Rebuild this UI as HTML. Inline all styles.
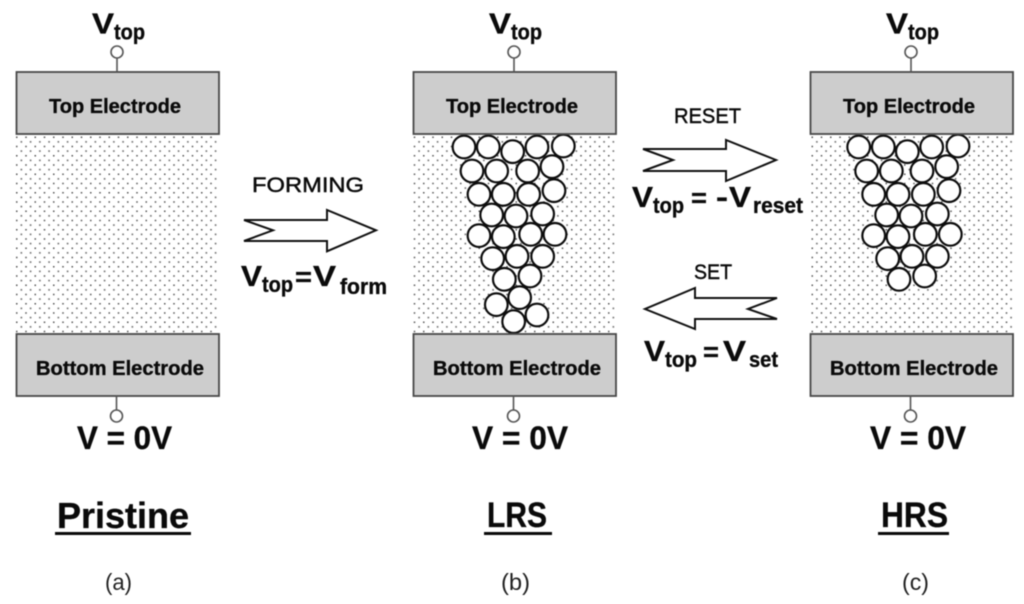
<!DOCTYPE html>
<html><head><meta charset="utf-8"><style>
html,body{margin:0;padding:0;background:#fff;width:1024px;height:604px;overflow:hidden}
svg{display:block;filter:blur(.45px)}
text{font-family:"Liberation Sans",sans-serif;fill:#0a0a0a}
.b{font-weight:bold;stroke:#0a0a0a;stroke-width:.35}
.m{stroke:#0a0a0a;stroke-width:.45}
.box{fill:#cdcdcd;stroke:#484848;stroke-width:1.8}
.t{fill:#fff;stroke:#555;stroke-width:1.6}
.l{stroke:#555;stroke-width:1.6}
.a{fill:#fff;stroke:#111;stroke-width:2}
.c circle{fill:#fff;stroke:#0c0c0c;stroke-width:6.5}
</style></head><body>
<svg width="1024" height="604" viewBox="0 0 1024 604" xmlns="http://www.w3.org/2000/svg">
<defs><pattern id="d" x="16" y="136.5" width="9.25" height="9.25" patternUnits="userSpaceOnUse">
<rect x="0" y="0" width="1.5" height="1.5" fill="#555"/><rect x="4.6" y="4.6" width="1.5" height="1.5" fill="#555"/></pattern></defs>

<rect x="16" y="134" width="203" height="200" fill="url(#d)"/>
<rect x="413" y="134" width="203" height="200" fill="url(#d)"/>
<rect x="810" y="134" width="203" height="200" fill="url(#d)"/>

<g class="c" transform="translate(420 120) scale(.3333)">
<circle cx="132" cy="81" r="34"/><circle cx="205" cy="81" r="34"/><circle cx="278" cy="95" r="34"/><circle cx="351" cy="81" r="34"/><circle cx="430" cy="78" r="34"/>
<circle cx="156" cy="153" r="34"/><circle cx="230" cy="153" r="34"/><circle cx="323" cy="153" r="34"/><circle cx="396" cy="140" r="34"/>
<circle cx="177" cy="223" r="34"/><circle cx="250" cy="223" r="34"/><circle cx="326" cy="223" r="34"/><circle cx="402" cy="212" r="34"/>
<circle cx="215" cy="285" r="34"/><circle cx="288" cy="288" r="34"/><circle cx="368" cy="282" r="34"/>
<circle cx="177" cy="347" r="34"/><circle cx="250" cy="350" r="34"/><circle cx="332" cy="343" r="34"/><circle cx="405" cy="343" r="34"/>
<circle cx="218" cy="416" r="34"/><circle cx="291" cy="409" r="34"/><circle cx="368" cy="409" r="34"/>
<circle cx="253" cy="478" r="34"/><circle cx="330" cy="468" r="34"/>
<circle cx="229" cy="554" r="34"/><circle cx="299" cy="533" r="34"/><circle cx="351" cy="585" r="34"/><circle cx="281" cy="605" r="34"/>
</g>
<g class="c" transform="translate(820 120) scale(.3333)">
<circle cx="116" cy="81" r="34"/><circle cx="190" cy="81" r="34"/><circle cx="262" cy="95" r="34"/><circle cx="335" cy="81" r="34"/><circle cx="414" cy="78" r="34"/>
<circle cx="140" cy="153" r="34"/><circle cx="214" cy="153" r="34"/><circle cx="306" cy="153" r="34"/><circle cx="380" cy="140" r="34"/>
<circle cx="161" cy="223" r="34"/><circle cx="234" cy="223" r="34"/><circle cx="310" cy="223" r="34"/><circle cx="387" cy="212" r="34"/>
<circle cx="200" cy="285" r="34"/><circle cx="273" cy="288" r="34"/><circle cx="352" cy="282" r="34"/>
<circle cx="161" cy="347" r="34"/><circle cx="234" cy="350" r="34"/><circle cx="316" cy="343" r="34"/><circle cx="391" cy="343" r="34"/>
<circle cx="203" cy="416" r="34"/><circle cx="276" cy="409" r="34"/><circle cx="352" cy="409" r="34"/>
<circle cx="237" cy="478" r="34"/><circle cx="314" cy="468" r="34"/>
</g>

<rect class="box" x="16.5" y="72" width="202.5" height="62"/>
<rect class="box" x="16.5" y="334" width="202.5" height="62"/>
<rect class="box" x="413.5" y="72" width="202.5" height="62"/>
<rect class="box" x="413.5" y="334" width="202.5" height="62"/>
<rect class="box" x="810.5" y="72" width="202.5" height="62"/>
<rect class="box" x="810.5" y="334" width="202.5" height="62"/>

<line class="l" x1="117" y1="57" x2="117" y2="72"/><circle class="t" cx="117" cy="52" r="6"/>
<line class="l" x1="116.5" y1="396" x2="116.5" y2="411"/><circle class="t" cx="116.5" cy="416" r="6"/>
<line class="l" x1="514" y1="57" x2="514" y2="72"/><circle class="t" cx="514" cy="52" r="6"/>
<line class="l" x1="513.5" y1="396" x2="513.5" y2="411"/><circle class="t" cx="513.5" cy="416" r="6"/>
<line class="l" x1="911" y1="57" x2="911" y2="72"/><circle class="t" cx="911" cy="52" r="6"/>
<line class="l" x1="910.5" y1="396" x2="910.5" y2="411"/><circle class="t" cx="910.5" cy="416" r="6"/>

<polygon class="a" points="244,220 327,220 327,210 376,230.3 327,251.3 327,241 244,241 273,230.3"/>
<polygon class="a" points="643,149 726,149 726,140 776,160 726,181 726,171 643,171 673,160"/>
<polygon class="a" points="777,298 695,298 695,288 645,309 695,329 695,319 777,319 748,309"/>

<text class="b" x="49" y="113" font-size="20" textLength="132" lengthAdjust="spacingAndGlyphs">Top Electrode</text>
<text class="b" x="446" y="113" font-size="20" textLength="132" lengthAdjust="spacingAndGlyphs">Top Electrode</text>
<text class="b" x="843" y="113" font-size="20" textLength="132" lengthAdjust="spacingAndGlyphs">Top Electrode</text>
<text class="b" x="36" y="375" font-size="20" textLength="168" lengthAdjust="spacingAndGlyphs">Bottom Electrode</text>
<text class="b" x="433" y="375" font-size="20" textLength="168" lengthAdjust="spacingAndGlyphs">Bottom Electrode</text>
<text class="b" x="830" y="375" font-size="20" textLength="168" lengthAdjust="spacingAndGlyphs">Bottom Electrode</text>

<text class="b" x="92" y="33.5" font-size="29" textLength="22" lengthAdjust="spacingAndGlyphs">V</text><text class="b" x="114" y="39.5" font-size="22" textLength="31" lengthAdjust="spacingAndGlyphs">top</text>
<text class="b" x="489" y="33.5" font-size="29" textLength="22" lengthAdjust="spacingAndGlyphs">V</text><text class="b" x="511" y="39.5" font-size="22" textLength="31" lengthAdjust="spacingAndGlyphs">top</text>
<text class="b" x="886" y="33.5" font-size="29" textLength="22" lengthAdjust="spacingAndGlyphs">V</text><text class="b" x="908" y="39.5" font-size="22" textLength="31" lengthAdjust="spacingAndGlyphs">top</text>

<text class="b" x="77" y="449" font-size="32" textLength="95" lengthAdjust="spacingAndGlyphs">V = 0V</text>
<text class="b" x="472" y="449" font-size="32" textLength="96" lengthAdjust="spacingAndGlyphs">V = 0V</text>
<text class="b" x="870" y="449" font-size="32" textLength="96" lengthAdjust="spacingAndGlyphs">V = 0V</text>

<text class="b" x="57" y="528" font-size="36" textLength="132" lengthAdjust="spacingAndGlyphs">Pristine</text>
<rect x="55" y="532" width="136" height="3" fill="#0a0a0a"/>
<text class="b" x="487" y="527" font-size="35" textLength="60" lengthAdjust="spacingAndGlyphs">LRS</text>
<rect x="484" y="532" width="68" height="3" fill="#0a0a0a"/>
<text class="b" x="881" y="527" font-size="35" textLength="67" lengthAdjust="spacingAndGlyphs">HRS</text>
<rect x="878" y="532" width="71" height="3" fill="#0a0a0a"/>

<text x="105" y="590" font-size="23" textLength="27" lengthAdjust="spacingAndGlyphs" style="fill:#222">(a)</text>
<text x="501" y="590" font-size="23" textLength="29" lengthAdjust="spacingAndGlyphs" style="fill:#222">(b)</text>
<text x="902" y="590" font-size="23" textLength="27" lengthAdjust="spacingAndGlyphs" style="fill:#222">(c)</text>

<text class="m" x="252" y="192" font-size="21" textLength="112" lengthAdjust="spacingAndGlyphs">FORMING</text>
<text class="m" x="674" y="123" font-size="21" textLength="67" lengthAdjust="spacingAndGlyphs">RESET</text>
<text class="m" x="694" y="279" font-size="21" textLength="38" lengthAdjust="spacingAndGlyphs">SET</text>

<text class="b" x="241" y="286" font-size="29" textLength="21" lengthAdjust="spacingAndGlyphs">V</text>
<text class="b" x="262" y="292" font-size="22" textLength="31" lengthAdjust="spacingAndGlyphs">top</text>
<text class="b" x="295" y="286" font-size="27" textLength="17" lengthAdjust="spacingAndGlyphs">=</text>
<text class="b" x="313" y="286" font-size="29" textLength="23" lengthAdjust="spacingAndGlyphs">V</text>
<text class="b" x="340" y="294" font-size="22" textLength="47" lengthAdjust="spacingAndGlyphs">form</text>

<text class="b" x="632" y="207" font-size="29" textLength="21" lengthAdjust="spacingAndGlyphs">V</text>
<text class="b" x="653" y="213" font-size="22" textLength="31" lengthAdjust="spacingAndGlyphs">top</text>
<text class="b" x="691" y="207" font-size="27" textLength="16" lengthAdjust="spacingAndGlyphs">=</text>
<text class="b" x="716" y="207" font-size="29" textLength="12" lengthAdjust="spacingAndGlyphs">-</text>
<text class="b" x="729" y="207" font-size="29" textLength="22" lengthAdjust="spacingAndGlyphs">V</text>
<text class="b" x="753" y="213" font-size="22" textLength="50" lengthAdjust="spacingAndGlyphs">reset</text>

<text class="b" x="644" y="361" font-size="29" textLength="21" lengthAdjust="spacingAndGlyphs">V</text>
<text class="b" x="665" y="367" font-size="22" textLength="32" lengthAdjust="spacingAndGlyphs">top</text>
<text class="b" x="703" y="361" font-size="27" textLength="16" lengthAdjust="spacingAndGlyphs">=</text>
<text class="b" x="723" y="361" font-size="29" textLength="23" lengthAdjust="spacingAndGlyphs">V</text>
<text class="b" x="749" y="367" font-size="22" textLength="29" lengthAdjust="spacingAndGlyphs">set</text>
</svg>
</body></html>
